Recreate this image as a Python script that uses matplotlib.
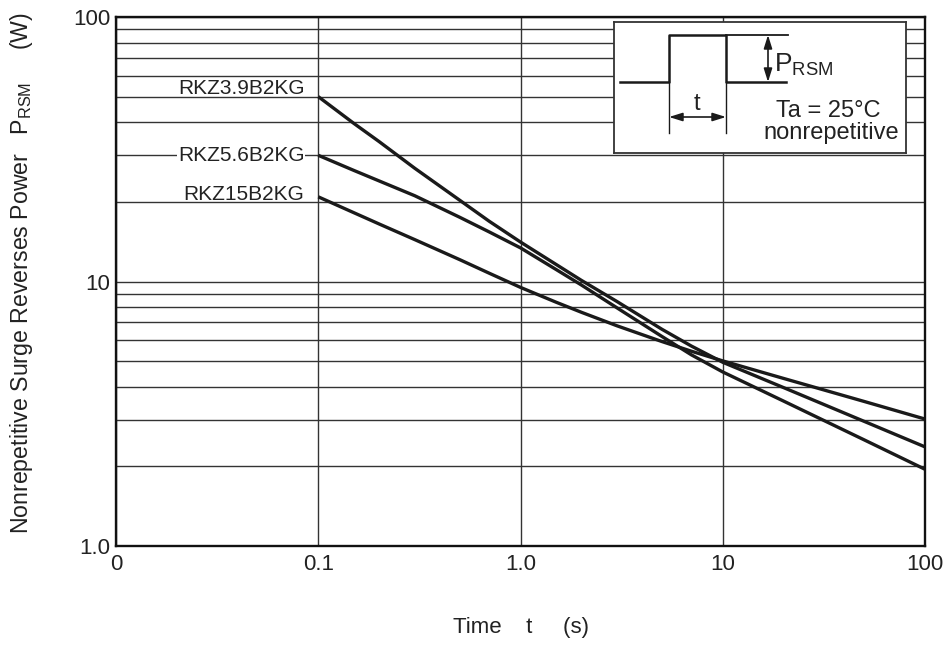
import matplotlib
matplotlib.use("Agg")
import matplotlib.pyplot as plt
from matplotlib.ticker import FixedLocator, NullLocator, NullFormatter

plt.rcParams['font.family'] = ['Liberation Sans', 'DejaVu Sans']
plt.rcParams['mathtext.fontset'] = 'custom'
plt.rcParams['mathtext.rm'] = 'Liberation Sans'
plt.rcParams['mathtext.it'] = 'Liberation Sans:italic'

# pulse width t (s)
t = [0.1, 0.15, 0.2, 0.3, 0.5, 0.7, 1, 1.5, 2, 3, 5, 7, 10, 20, 50, 100]
# surge power P_RSM (W)
p_rkz39 = [50, 39.6, 33.8, 26.8, 20.3, 16.9, 14.1, 11.6, 10.1, 8.4, 6.6, 5.7, 4.95, 3.97, 2.96, 2.37]
p_rkz56 = [30, 26.3, 24.0, 21.1, 17.5, 15.4, 13.4, 11.1, 9.7, 7.95, 6.2, 5.28, 4.55, 3.53, 2.52, 1.95]
p_rkz15 = [20.9, 18.2, 16.5, 14.4, 12.1, 10.75, 9.5, 8.35, 7.65, 6.8, 5.93, 5.45, 5.01, 4.30, 3.52, 3.02]
series = [("RKZ3.9B2KG", p_rkz39, 6), ("RKZ5.6B2KG", p_rkz56, 0), ("RKZ15B2KG", p_rkz15, 1.5)]

x_ticks = [0.01, 0.1, 1, 10, 100]
x_tick_labels = ["0", "0.1", "1.0", "10", "100"]
y_ticks = [1, 10, 100]
y_tick_labels = ["1.0", "10", "100"]
y_grid_minor = [2, 3, 4, 5, 6, 7, 8, 9, 20, 30, 40, 50, 60, 70, 80, 90]

fig = plt.figure(figsize=(9.46, 6.48), dpi=100)
ax = fig.add_axes([116/946, 1-546/648, 809/946, 529/648])
ax.set_xscale('log')
ax.set_yscale('log')
ax.set_xlim(0.01, 100)
ax.set_ylim(1, 100)

ax.set_xticks(x_ticks, x_tick_labels)
ax.xaxis.set_minor_locator(NullLocator())
ax.set_yticks(y_ticks, y_tick_labels)
ax.yaxis.set_minor_locator(FixedLocator(y_grid_minor))
ax.yaxis.set_minor_formatter(NullFormatter())
ax.tick_params(which='both', length=0, labelsize=16, colors='#222')
ax.tick_params(axis='x', pad=6)
ax.tick_params(axis='y', pad=4)

ax.grid(axis='x', which='major', color='#333', lw=1.0)
ax.grid(axis='y', which='both', color='#333', lw=1.0)
for s in ax.spines.values():
    s.set_linewidth(1.7)
    s.set_color('#111')

for name, p, dy in series:
    ax.plot(t, p, color='#1a1a1a', lw=2.4, solid_capstyle='butt', solid_joinstyle='round')
    bb = dict(facecolor='white', edgecolor='none', pad=0.5) if dy == 0 else None
    ax.annotate(name, xy=(t[0], p[0]), xytext=(-10, dy), textcoords='offset points',
                ha='right', va='center', fontsize=15, color='#222', bbox=bb)

fig.text(521/946, 1-628/648, "Time    t     (s)", ha='center', va='center',
         fontsize=16, color='#222')
fig.text(22/946, 1-273/648,
         "Nonrepetitive Surge Reverses Power   P$_{\\rm RSM}$     (W)",
         rotation=90, ha='center', va='center', fontsize=16.7, color='#222')

# inset pulse diagram, drawn in pixel units of the box
box = fig.add_axes([614/946, 1-153/648, 292/946, 131/648])
box.set_xlim(0, 292)
box.set_ylim(131, 0)
box.set_xticks([])
box.set_yticks([])
box.set_facecolor('white')
for s in box.spines.values():
    s.set_linewidth(1.3)
    s.set_color('#333')
k = dict(color='#1a1a1a', lw=1.8)
box.plot([6, 55, 55, 112, 112, 172], [60, 60, 13, 13, 60, 60], **k)
box.plot([112, 174], [13, 13], color='#1a1a1a', lw=1.3)
box.plot([55, 55], [60, 111], color='#1a1a1a', lw=1.0)
box.plot([112, 112], [60, 111], color='#1a1a1a', lw=1.0)
arr = dict(arrowstyle='<|-|>,head_length=0.8,head_width=0.25', color='#1a1a1a', lw=1.2,
           shrinkA=0, shrinkB=0)
box.annotate("", xy=(154, 13), xytext=(154, 60), arrowprops=arr)
box.annotate("", xy=(55, 95), xytext=(112, 95), arrowprops=arr)
box.text(83, 82, "t", ha='center', va='center', fontsize=17, color='#222')
box.text(160, 43, "P$_{\\rm RSM}$", ha='left', va='center', fontsize=19, color='#222')
box.text(214, 89, "Ta = 25°C", ha='center', va='center', fontsize=17, color='#222')
box.text(217, 111, "nonrepetitive", ha='center', va='center', fontsize=17, color='#222')

fig.savefig("out.png", dpi=100, facecolor='white')
